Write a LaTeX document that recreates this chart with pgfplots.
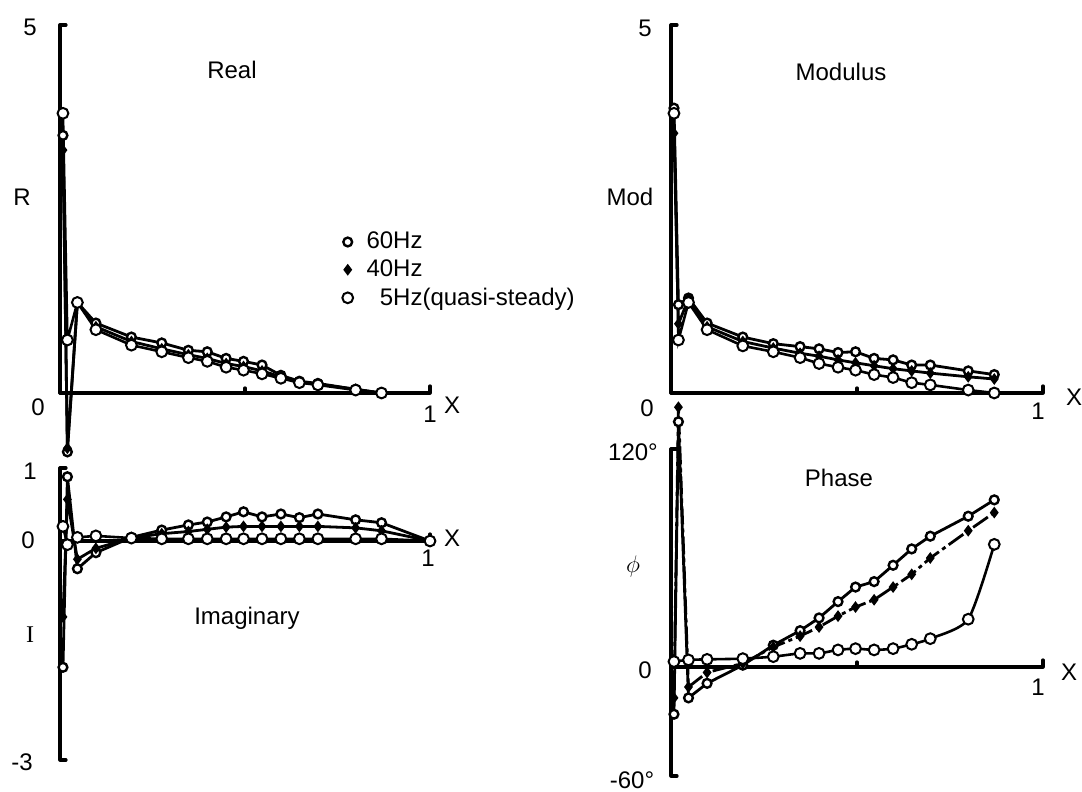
\documentclass[border=0pt]{standalone}
\usepackage{pgfplots}
\pgfplotsset{compat=1.18}
\usepackage{fontspec}
\setmainfont{Liberation Sans}

% one picture pixel = 0.5pt, picture is 1082 x 792 px
\newcommand\lbl[3]{\node[font=\fontsize{12}{14}\selectfont, inner sep=0pt] at ({#1*0.5pt},{(792-#2)*0.5pt}) {#3};}

\pgfplotsset{
  panel/.style={scale only axis, axis lines=none, clip=false,
    xmin=0, xmax=1, anchor=south west},
  s60/.style={black, line width=1.4pt, mark=*, mark size=2.2pt,
    mark options={fill=white, line width=1.2pt, solid}},
  s40/.style={black, line width=1.4pt, mark=diamond*, mark size=1.8pt,
    mark options={fill=black, solid}},
  s5/.style={black, line width=1.3pt, mark=*, mark size=2.7pt,
    mark options={fill=white, line width=1.0pt, solid}},
}
\tikzset{ax/.style={black, line width=1.6pt, line cap=round, line join=round}}

\begin{document}
\begin{tikzpicture}
\useasboundingbox (0,0) rectangle (541pt,396pt);

% ---------------- Real ----------------
\begin{axis}[panel, width=185pt, height=184pt, at={(30pt,199.5pt)},
    ymin=0, ymax=5,
    legend style={at={(axis cs:0.745,2.30)}, anchor=north west, draw=none,
      fill=none, row sep=0pt, font=\fontsize{12}{14}\selectfont},
    legend cell align=left,
    legend image code/.code={\path[draw=none, fill=none] (-0.1cm,0cm) -- (0.26cm,0cm);
      \draw[#1] plot coordinates {(0cm,0cm)};}]
\draw[ax] (axis cs:0,0) -- (axis cs:0,5) -- ([xshift=3pt]axis cs:0,5);
\draw[ax] (axis cs:0,0) -- (axis cs:1,0) -- ([yshift=3.5pt]axis cs:1,0);
\draw[ax] (axis cs:0.5,0) -- ([yshift=2.5pt]axis cs:0.5,0);
\addplot[s60] coordinates {
 (0.008,3.5) (0.02,-0.80) (0.047,1.23) (0.097,0.95) (0.193,0.76) (0.275,0.68)
 (0.347,0.58) (0.398,0.56) (0.449,0.47) (0.496,0.43) (0.546,0.38) (0.597,0.24)
 (0.647,0.16) (0.697,0.13) (0.799,0.05) (0.869,0.0)};
\addlegendentry{60Hz}
\addplot[s40] coordinates {
 (0.008,3.3) (0.02,-0.75) (0.047,1.23) (0.097,0.90) (0.193,0.70) (0.275,0.60)
 (0.347,0.52) (0.398,0.47) (0.449,0.40) (0.496,0.36) (0.546,0.30) (0.597,0.22)
 (0.647,0.15) (0.697,0.12) (0.799,0.05) (0.869,0.0)};
\addlegendentry{40Hz}
\addplot[s5] coordinates {
 (0.008,3.8) (0.02,0.72) (0.047,1.23) (0.097,0.86) (0.193,0.65) (0.275,0.56)
 (0.347,0.48) (0.398,0.43) (0.449,0.35) (0.496,0.31) (0.546,0.26) (0.597,0.20)
 (0.647,0.14) (0.697,0.11) (0.799,0.04) (0.869,0.0)};
\addlegendentry{\phantom{6}5Hz(quasi-steady)}
\end{axis}

% ---------------- Imaginary ----------------
\begin{axis}[panel, width=185pt, height=146pt, at={(30pt,16pt)},
    ymin=-3, ymax=1]
\draw[ax] ([xshift=3pt]axis cs:0,1) -- (axis cs:0,1) -- (axis cs:0,-3) -- ([xshift=3pt]axis cs:0,-3);
\draw[ax] (axis cs:0,0) -- (axis cs:1,0) -- ([yshift=3.5pt]axis cs:1,0);
\addplot[s60] coordinates {
 (0.008,-1.73) (0.02,0.88) (0.047,-0.38) (0.097,-0.16) (0.193,0.05) (0.275,0.15)
 (0.347,0.22) (0.398,0.26) (0.449,0.33) (0.496,0.40) (0.546,0.33) (0.597,0.37)
 (0.647,0.32) (0.697,0.37) (0.799,0.29) (0.869,0.25) (1.0,0.0)};
\addplot[s40] coordinates {
 (0.008,-1.04) (0.02,0.57) (0.047,-0.25) (0.097,-0.10) (0.193,0.04) (0.275,0.10)
 (0.347,0.13) (0.398,0.16) (0.449,0.19) (0.496,0.20) (0.546,0.20) (0.597,0.20)
 (0.647,0.20) (0.697,0.20) (0.799,0.18) (0.869,0.14) (1.0,0.0)};
\addplot[s5] coordinates {
 (0.008,0.20) (0.02,-0.05) (0.047,0.05) (0.097,0.07) (0.193,0.04) (0.275,0.03)
 (0.347,0.03) (0.398,0.03) (0.449,0.03) (0.496,0.03) (0.546,0.03) (0.597,0.03)
 (0.647,0.03) (0.697,0.03) (0.799,0.03) (0.869,0.03) (1.0,0.0)};
\end{axis}

% ---------------- Modulus ----------------
\begin{axis}[panel, width=186pt, height=184pt, at={(335.5pt,199.5pt)},
    ymin=0, ymax=5]
\draw[ax] (axis cs:0,0) -- (axis cs:0,5) -- ([xshift=3pt]axis cs:0,5);
\draw[ax] (axis cs:0,0) -- (axis cs:1,0) -- ([yshift=3.5pt]axis cs:1,0);
\draw[ax] (axis cs:0.5,0) -- ([yshift=2.5pt]axis cs:0.5,0);
\addplot[s60] coordinates {
 (0.008,3.87) (0.02,1.20) (0.047,1.29) (0.097,0.95) (0.193,0.76) (0.275,0.67)
 (0.347,0.63) (0.398,0.60) (0.449,0.55) (0.496,0.56) (0.546,0.47) (0.597,0.45)
 (0.647,0.38) (0.697,0.38) (0.799,0.30) (0.869,0.25)};
\addplot[s40] coordinates {
 (0.008,3.53) (0.02,0.94) (0.047,1.28) (0.097,0.90) (0.193,0.70) (0.275,0.61)
 (0.347,0.54) (0.398,0.50) (0.449,0.45) (0.496,0.41) (0.546,0.37) (0.597,0.33)
 (0.647,0.30) (0.697,0.27) (0.799,0.22) (0.869,0.19)};
\addplot[s5] coordinates {
 (0.008,3.80) (0.02,0.72) (0.047,1.23) (0.097,0.86) (0.193,0.64) (0.275,0.56)
 (0.347,0.48) (0.398,0.40) (0.449,0.35) (0.496,0.31) (0.546,0.25) (0.597,0.21)
 (0.647,0.14) (0.697,0.11) (0.799,0.04) (0.869,0.0)};
\end{axis}

% ---------------- Phase ----------------
\begin{axis}[panel, width=186pt, height=163.5pt, at={(335.5pt,8pt)},
    ymin=-60, ymax=120]
\draw[ax] ([xshift=3pt]axis cs:0,120) -- (axis cs:0,120) -- (axis cs:0,-60) -- ([xshift=3pt]axis cs:0,-60);
\draw[ax] (axis cs:0,0) -- (axis cs:1,0) -- ([yshift=3.5pt]axis cs:1,0);
\draw[ax] (axis cs:0.5,0) -- ([yshift=2.5pt]axis cs:0.5,0);
\addplot[s60] coordinates {
 (0.008,-26) (0.02,135) (0.047,-17) (0.097,-9) (0.193,1) (0.275,12)
 (0.347,20) (0.398,27) (0.449,36) (0.496,44) (0.546,47) (0.597,56)
 (0.647,65) (0.697,72) (0.799,83) (0.869,92)};
\addplot[s40, dash pattern=on 9pt off 2pt on 2pt off 2pt] coordinates {
 (0.008,-17) (0.02,143) (0.047,-11) (0.097,-3) (0.193,2) (0.275,11)
 (0.347,17) (0.398,22) (0.449,28) (0.496,33) (0.546,37) (0.597,44)
 (0.647,51) (0.697,60) (0.799,75) (0.869,85)};
\addplot[s5, smooth, tension=0.4] coordinates {
 (0.008,3) (0.047,3.9) (0.097,4.2) (0.193,4.6) (0.275,5.7)
 (0.347,7.5) (0.398,7.5) (0.449,9.4) (0.496,10.1) (0.546,9.4) (0.597,10.1)
 (0.647,12.5) (0.697,15.6) (0.799,26.3) (0.869,67.5)};
\end{axis}

% ---------------- labels ----------------
\lbl{30}{27}{5}
\lbl{22}{197}{R}
\lbl{232}{70}{Real}
\lbl{38}{407}{0}
\lbl{430}{414}{1}
\lbl{452}{405}{X}

\lbl{30}{471}{1}
\lbl{28}{540}{0}
\lbl{30}{635}{{\fontspec{Liberation Serif}I}}
\lbl{22}{762}{-3}
\lbl{247}{618}{Imaginary}
\lbl{452}{538}{X}
\lbl{428}{558}{1}

\lbl{645}{28}{5}
\lbl{630}{197}{Mod}
\lbl{841}{72}{Modulus}
\lbl{647}{408}{0}
\lbl{1038}{411}{1}
\lbl{1074}{397}{X}

\lbl{633}{452}{120°}
\lbl{839}{478}{Phase}
\lbl{633}{567}{$\phi$}
\lbl{645}{670}{0}
\lbl{1038}{687}{1}
\lbl{1069}{672}{X}
\lbl{632}{780}{-60°}
\end{tikzpicture}
\end{document}
